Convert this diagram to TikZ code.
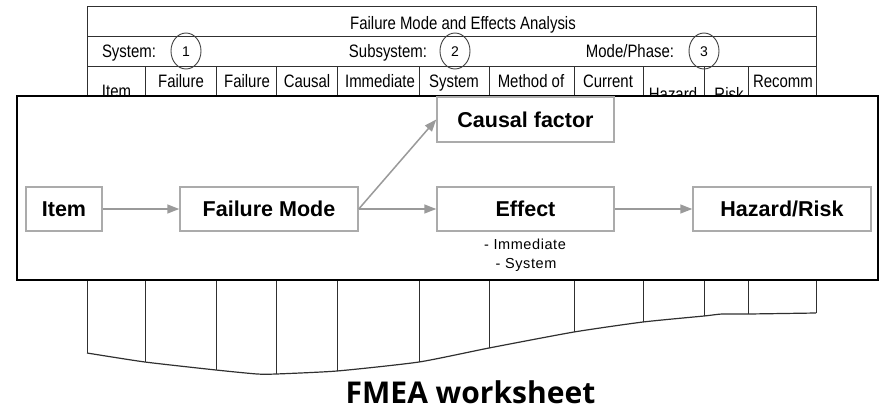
\documentclass[tikz,border=0pt]{standalone}
\usepackage{fontspec}
\setmainfont{Liberation Sans}
\newfontfamily\narrowfont[FakeStretch=0.83]{Liberation Sans}
\newfontfamily\spacedfont[LetterSpace=4]{Liberation Sans}
\newfontfamily\captionfont{Open Sans}
\usetikzlibrary{arrows.meta}
\definecolor{boxgray}{HTML}{ABABAB}
\definecolor{arrgray}{HTML}{9A9A9A}
\definecolor{tabline}{HTML}{303030}
\definecolor{circline}{HTML}{404040}
\tikzset{
  tabtxt/.style={font=\narrowfont\fontsize{18}{20}\selectfont, inner sep=0pt, anchor=base},
  numtxt/.style={font=\fontsize{14}{16}\selectfont, inner sep=0pt, anchor=base},
  tableline/.style={draw=tabline, line width=1pt},
  numcircle/.style={draw=circline, line width=0.9pt},
  flowbox/.style={draw=boxgray, line width=1.5pt, fill=white, inner sep=0pt,
    minimum height=44pt, font=\bfseries\fontsize{21.5}{24}\selectfont},
  flowarrow/.style={draw=arrgray, line width=1.5pt, -{Triangle[length=12pt,width=9pt]}},
  notetxt/.style={font=\spacedfont\fontsize{14.5}{17}\selectfont, inner sep=0pt, anchor=base},
}
\begin{document}
\begin{tikzpicture}[x=1pt,y=-1pt]
\useasboundingbox (0,0) rectangle (881,410);

% ---- worksheet table ----
\draw[tableline] (87,353) -- (87,6) -- (816,6) -- (816,313);
\draw[tableline] (87,36) -- (816,36);
\draw[tableline] (87,66) -- (816,66);
\foreach \xx/\yy in {145/362,216/370,276/374,337/371,419/362,489/348,574/332,643/322,704/316,748/314}
  \draw[tableline] (\xx,66) -- (\xx,\yy);
\draw[draw=tabline, line width=1.2pt, line join=round]
  plot[smooth, tension=0.35] coordinates {(87,353) (145,362) (216,370) (257,374) (276,374) (337,371) (419,362) (489,348) (574,332) (643,322) (704,316) (722,314) (748,314) (816,313)};

\node[tabtxt] (title) at (463,29) {Failure Mode and Effects Analysis};
\node[tabtxt] (sys) at (129,57) {System:};
\node[tabtxt] (subsys) at (388,57) {Subsystem:};
\node[tabtxt] (mode) at (630,57) {Mode/Phase:};
\draw[numcircle] (186,51) ellipse [x radius=15, y radius=18];
\draw[numcircle] (455,51) ellipse [x radius=15, y radius=18];
\draw[numcircle] (704,51) ellipse [x radius=15, y radius=18];
\node[numtxt] (n1) at (186,56) {1};
\node[numtxt] (n2) at (455,56) {2};
\node[numtxt] (n3) at (704,56) {3};

\node[tabtxt] (hitem) at (116.5,97) {Item};
\node[tabtxt] (hfm) at (181,87) {Failure};
\node[tabtxt] (hfc) at (247,87) {Failure};
\node[tabtxt] (hcf) at (307,87) {Causal};
\node[tabtxt] (hie) at (380,87) {Immediate};
\node[tabtxt] (hse) at (454,87) {System};
\node[tabtxt] (hmd) at (531,87) {Method of};
\node[tabtxt] (hcc) at (608,87) {Current};
\node[tabtxt] (hhz) at (673,100) {Hazard};
\node[tabtxt] (hrk) at (729,100) {Risk};
\node[tabtxt] (hrc) at (783,87) {Recomm};

% ---- overlay panel ----
\draw[line width=2pt, fill=white] (17,96) rectangle (878,279.5);

\node[flowbox, minimum width=76pt] (item) at (64,209) {Item};
\node[flowbox, minimum width=178pt] (fm) at (269,209) {Failure Mode};
\node[flowbox, minimum width=177pt, minimum height=45pt] (cf) at (525.5,119.5) {Causal factor};
\node[flowbox, minimum width=177pt] (eff) at (525.5,209) {Effect};
\node[flowbox, minimum width=178pt] (hr) at (782,209) {Hazard/Risk};

\draw[flowarrow] (item.east) -- (fm.west);
\draw[flowarrow] (fm.east) -- (cf.west);
\draw[flowarrow] (fm.east) -- (eff.west);
\draw[flowarrow] (eff.east) -- (hr.west);

\node[notetxt] (noteA) at (525,249) {- Immediate};
\node[notetxt] (noteB) at (526,268) {- System};

% ---- caption ----
\node[font=\captionfont\bfseries\fontsize{30}{32}\selectfont, inner sep=0pt, anchor=base] (caption) at (470.5,403) {FMEA worksheet};
\end{tikzpicture}
\end{document}
